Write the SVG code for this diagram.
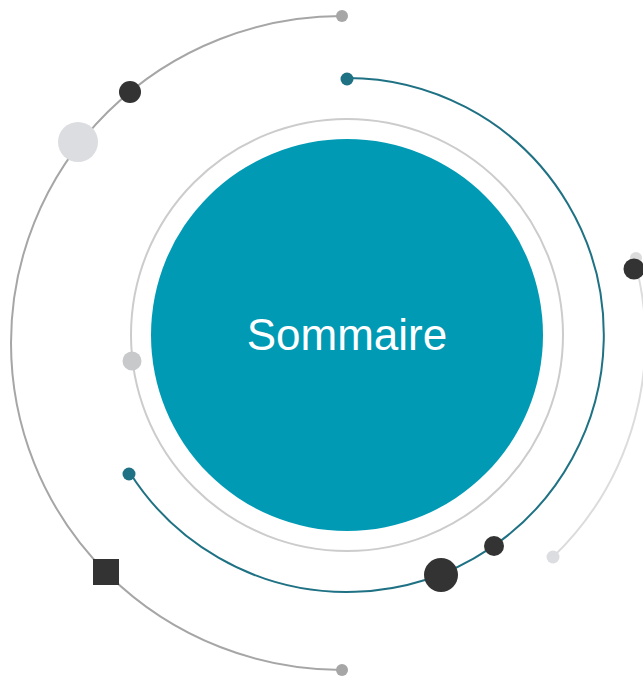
<svg xmlns="http://www.w3.org/2000/svg" width="643" height="678" viewBox="0 0 643 678">
<style>
.arc{fill:none;stroke-linecap:round}
.dark{fill:#333333}
</style>
<rect width="643" height="678" fill="#ffffff"/>
<g id="connectors">
<path id="outer-arc" class="arc" d="M342,16 A331,327 0 0 0 342,670" stroke="#a6a6a6" stroke-width="2"/>
<path id="teal-arc" class="arc" d="M347,78 A257,257 0 1 1 130,473" stroke="#1f7184" stroke-width="2"/>
<path id="light-arc" class="arc" d="M634,258 A302,302 0 0 1 553,557" stroke="#dcdcdc" stroke-width="2"/>
<circle id="ring" cx="347" cy="335" r="216" fill="none" stroke="#cccccc" stroke-width="2"/>
</g>
<g id="center">
<circle cx="347" cy="335" r="196" fill="#009ab5"/>
<text x="347" y="350" text-anchor="middle" font-family="Liberation Sans, Arial, sans-serif" font-size="44" fill="#ffffff">Sommaire</text>
</g>
<g id="outer-markers">
<circle cx="342" cy="16" r="6" fill="#a6a6a6"/>
<circle cx="342" cy="670" r="6" fill="#a6a6a6"/>
<circle cx="130" cy="92" r="11" class="dark"/>
<circle cx="78" cy="142" r="20" fill="#dcdde0"/>
<rect x="93" y="559" width="26" height="26" class="dark"/>
</g>
<g id="teal-markers">
<circle cx="347" cy="79" r="6.5" fill="#1f7184"/>
<circle cx="129" cy="474" r="6.5" fill="#1f7184"/>
<circle cx="441" cy="575" r="17" class="dark"/>
<circle cx="494" cy="546" r="10" class="dark"/>
</g>
<g id="ring-marker">
<circle cx="132" cy="361" r="9.5" fill="#c8c9cb"/>
</g>
<g id="light-markers">
<circle cx="636" cy="258" r="6" fill="#dcdcdc"/>
<circle cx="553" cy="557" r="6.5" fill="#dcdde0"/>
<circle cx="634" cy="269" r="10.5" class="dark"/>
</g>
</svg>
